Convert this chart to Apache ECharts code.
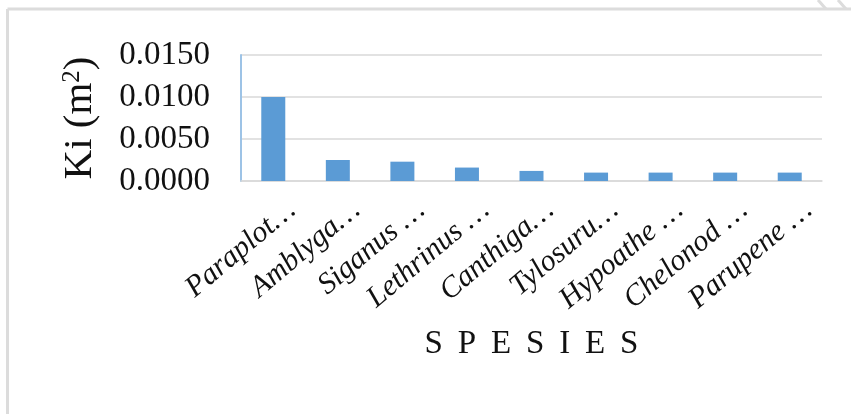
<!DOCTYPE html>
<html><head><meta charset="utf-8">
<script src="https://cdn.jsdelivr.net/npm/echarts@6/dist/echarts.min.js"></script>
<style>html,body{margin:0;padding:0;background:#fff}#c{width:851px;height:414px}</style>
</head><body><div id="c"></div>
<script>
const categories = ['Paraplot…','Amblyga…','Siganus …','Lethrinus …','Canthiga…','Tylosuru…','Hypoathe …','Chelonod …','Parupene …'];
const kiValues = [0.0100, 0.0025, 0.0023, 0.0016, 0.0012, 0.0010, 0.0010, 0.0010, 0.0010];
const yTicks = [0, 0.005, 0.010, 0.015];

const chart = echarts.init(document.getElementById('c'));
const serif = '"Liberation Serif","Times New Roman",serif';
const ink = '#111';
chart.setOption({
  animation: false,
  backgroundColor: '#fff',
  graphic: [
    {type:'line', shape:{x1:7.5,y1:9,x2:851,y2:9}, style:{stroke:'#dcdcdc', lineWidth:3}},
    {type:'line', shape:{x1:7.5,y1:9,x2:7.5,y2:414}, style:{stroke:'#dcdcdc', lineWidth:3}},
    {type:'line', shape:{x1:818,y1:0,x2:826,y2:9}, style:{stroke:'#dcdcdc', lineWidth:3}},
    {type:'line', shape:{x1:838,y1:0,x2:846,y2:9}, style:{stroke:'#dcdcdc', lineWidth:3}}
  ],
  grid: {left: 241, right: 29, top: 55, bottom: 233, containLabel: false},
  xAxis: {
    type: 'category',
    data: categories,
    name: 'S \u2009P \u2009E \u2009S \u2009I \u2009E \u2009S',
    nameLocation: 'middle',
    nameGap: 147,
    nameTextStyle: {fontFamily: serif, fontSize: 33, color: ink},
    axisLine: {show: true, lineStyle: {color: '#d9d9d9', width: 1.5}},
    axisTick: {show: false},
    axisLabel: {
      interval: 0, rotate: 40, margin: 3,
      fontFamily: serif, fontStyle: 'italic', fontSize: 30, color: ink,
      align: 'right', verticalAlign: 'top', lineHeight: 58
    }
  },
  yAxis: {
    type: 'value',
    min: 0, max: 0.015, interval: 0.005,
    name: '{a|Ki (m}{s|2}{a|)}',
    nameLocation: 'middle',
    nameGap: 140,
    nameRotate: 90,
    nameTextStyle: {
      rich: {
        a: {fontFamily: serif, fontSize: 41, color: ink},
        s: {fontFamily: serif, fontSize: 25, color: ink, verticalAlign: 'top', padding:[0,0,16,0]}
      }
    },
    axisLine: {show: true, lineStyle: {color: '#9dc3e6', width: 2}},
    axisTick: {show: false},
    axisLabel: {
      margin: 31,
      fontFamily: serif, fontSize: 33, color: ink,
      formatter: v => v.toFixed(4)
    },
    splitLine: {lineStyle: {color: '#d9d9d9', width: 1.5}}
  },
  series: [{
    type: 'bar',
    data: kiValues,
    barWidth: 24,
    itemStyle: {color: '#5b9bd5'}
  }]
});
</script></body></html>
